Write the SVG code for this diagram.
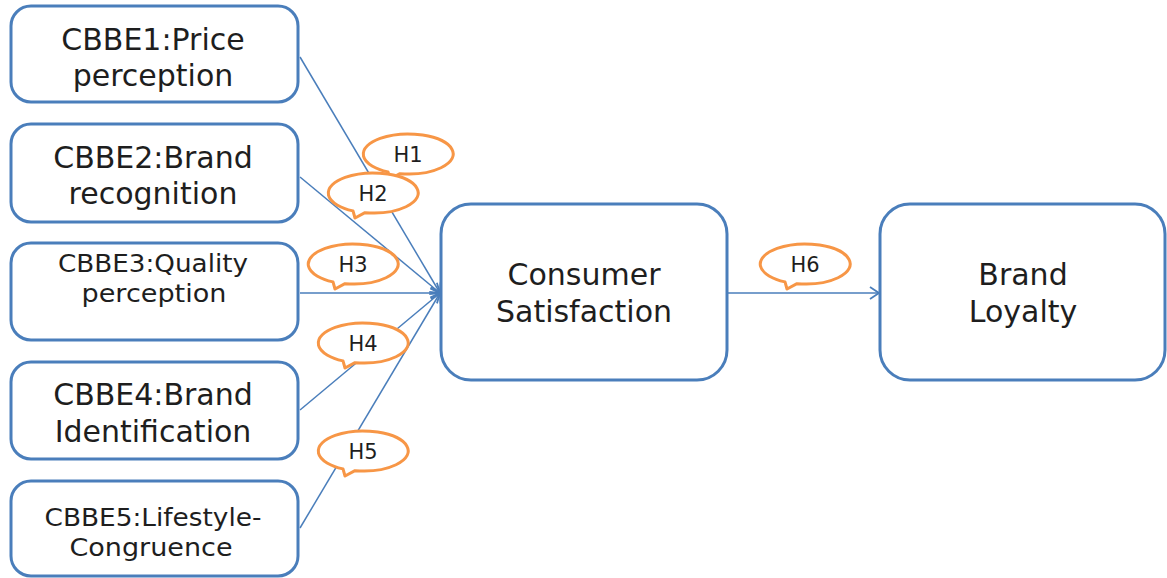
<svg xmlns="http://www.w3.org/2000/svg" width="1167" height="578" viewBox="0 0 1167 578">
<style>
.box{fill:#fff;stroke:#4a7ebb;stroke-width:3}
.t{font-family:"DejaVu Sans","Liberation Sans",sans-serif;fill:#1e1e1e;text-anchor:middle}
.big{font-size:30px}
.sm{font-size:24px}
.bt{font-size:21px}
.bub{fill:#fff;stroke:#f79646;stroke-width:3;stroke-linejoin:round}
.c{stroke:#4a7ebb;stroke-width:1.5;fill:none}
</style>
<defs>
<marker id="ar" markerWidth="14" markerHeight="14" refX="11" refY="7" orient="auto" markerUnits="userSpaceOnUse">
<path d="M2,1 L11,7 L2,13" fill="none" stroke="#4a7ebb" stroke-width="1.8"/>
</marker>
<path id="bb" d="M-8,19.7 A45 20 0 1 0 -20,17.9 L-18,25 Z"/>
</defs>
<g id="connectors">
<line class="c" x1="300" y1="57" x2="440" y2="293" marker-end="url(#ar)"/>
<line class="c" x1="300" y1="177" x2="440" y2="293" marker-end="url(#ar)"/>
<line class="c" x1="300" y1="293" x2="440" y2="293" marker-end="url(#ar)"/>
<line class="c" x1="300" y1="410" x2="440" y2="293" marker-end="url(#ar)"/>
<line class="c" x1="300" y1="528" x2="440" y2="293" marker-end="url(#ar)"/>
<line class="c" x1="728" y1="293" x2="879" y2="293" marker-end="url(#ar)"/>
</g>
<g id="n1"><rect class="box" x="11" y="6" width="287" height="96" rx="20"/>
<text class="t big" x="153" y="50">CBBE1:Price</text><text class="t big" x="153" y="86">perception</text></g>
<g id="n2"><rect class="box" x="11" y="124" width="287" height="98" rx="20"/>
<text class="t big" x="153" y="168">CBBE2:Brand</text><text class="t big" x="153" y="204">recognition</text></g>
<g id="n3"><rect class="box" x="11" y="243" width="287" height="97" rx="20"/>
<text class="t sm" x="153" y="272" textLength="190" lengthAdjust="spacingAndGlyphs">CBBE3:Quality</text><text class="t sm" x="154" y="302" textLength="145" lengthAdjust="spacingAndGlyphs">perception</text></g>
<g id="n4"><rect class="box" x="11" y="362" width="287" height="97" rx="20"/>
<text class="t big" x="153" y="405">CBBE4:Brand</text><text class="t big" x="153" y="442">Identification</text></g>
<g id="n5"><rect class="box" x="11" y="481" width="287" height="95" rx="20"/>
<text class="t sm" x="153" y="526" textLength="217" lengthAdjust="spacingAndGlyphs">CBBE5:Lifestyle-</text><text class="t sm" x="151" y="556" textLength="163" lengthAdjust="spacingAndGlyphs">Congruence</text></g>
<g id="n6"><rect class="box" x="441" y="204" width="286" height="176" rx="30"/>
<text class="t big" x="584" y="285">Consumer</text><text class="t big" x="584" y="322">Satisfaction</text></g>
<g id="n7"><rect class="box" x="880" y="204" width="285" height="176" rx="30"/>
<text class="t big" x="1023" y="285">Brand</text><text class="t big" x="1023" y="322">Loyalty</text></g>
<g id="h1"><use href="#bb" class="bub" x="408" y="154"/><text class="t bt" x="408" y="162">H1</text></g>
<g id="h2"><use href="#bb" class="bub" x="373" y="193"/><text class="t bt" x="373" y="201">H2</text></g>
<g id="h3"><use href="#bb" class="bub" x="353" y="264"/><text class="t bt" x="353" y="272">H3</text></g>
<g id="h4"><use href="#bb" class="bub" x="363" y="343"/><text class="t bt" x="363" y="351">H4</text></g>
<g id="h5"><use href="#bb" class="bub" x="363" y="451"/><text class="t bt" x="363" y="459">H5</text></g>
<g id="h6"><use href="#bb" class="bub" x="805" y="264"/><text class="t bt" x="805" y="272">H6</text></g>
</svg>
